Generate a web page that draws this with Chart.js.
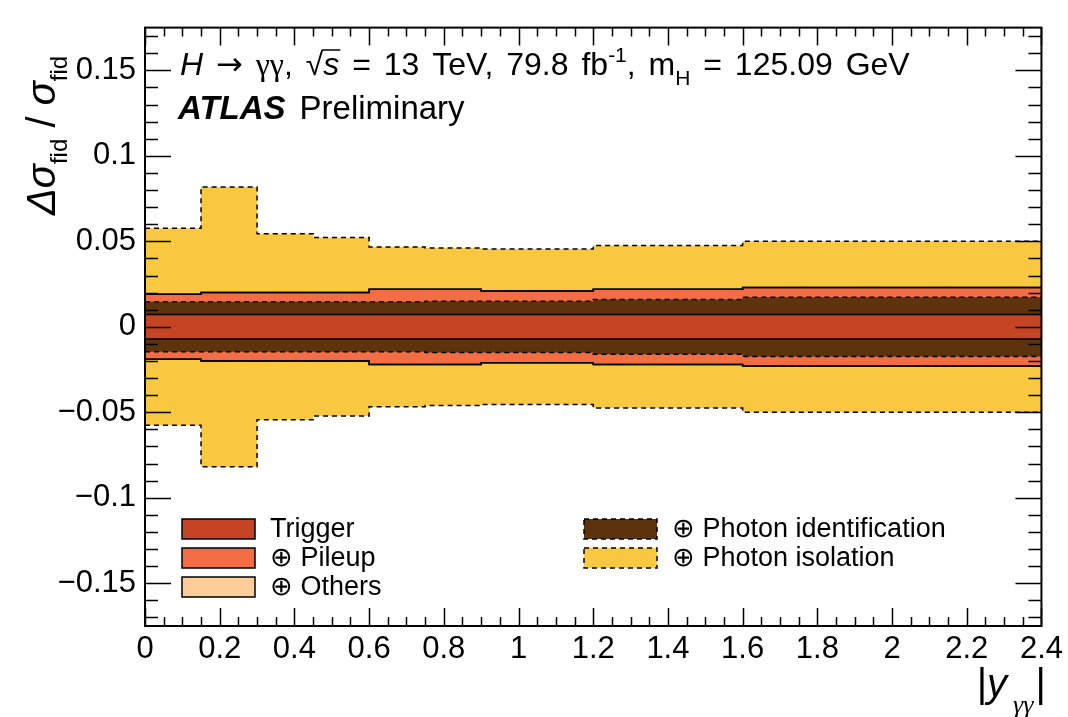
<!DOCTYPE html>
<html>
<head>
<meta charset="utf-8">
<script src="https://cdn.jsdelivr.net/npm/chart.js@4"></script>
<style>
  body { margin: 0; background: #fff; }
  #wrap { width: 1068px; height: 717px; position: relative; }
</style>
</head>
<body>
<div id="wrap"><canvas id="chart"></canvas></div>
<script>
// bin edges in |y_yy| and relative uncertainties (symmetric bands)
const binEdges = [0, 0.15, 0.3, 0.45, 0.6, 0.75, 0.9, 1.2, 1.6, 2.4];
const trigger = [0.0072, 0.0072, 0.0072, 0.0072, 0.0072, 0.0072, 0.0072, 0.0072, 0.0072];
const pileup = [0.019, 0.020, 0.020, 0.020, 0.022, 0.022, 0.021, 0.022, 0.023];
const others = [0.019, 0.020, 0.020, 0.020, 0.022, 0.022, 0.021, 0.022, 0.023];
const photonId = [0.0146, 0.0146, 0.0146, 0.0146, 0.0146, 0.015, 0.015, 0.016, 0.0173];
const photonIso = [0.0576, 0.0818, 0.0544, 0.0522, 0.0467, 0.0461, 0.0455, 0.0475, 0.050];

const seriesLabels = ['Trigger', '\u2295 Pileup', '\u2295 Others', '\u2295 Photon identification', '\u2295 Photon isolation'];
const seriesColors = ['rgb(196,68,36)', 'rgb(243,109,68)', 'rgb(252,205,152)', 'rgb(93,51,14)', 'rgb(250,200,64)'];
const seriesDashed = [false, false, false, true, true];

const xTickValues = [0, 0.2, 0.4, 0.6, 0.8, 1, 1.2, 1.4, 1.6, 1.8, 2, 2.2, 2.4];
const xTickLabels = ['0', '0.2', '0.4', '0.6', '0.8', '1', '1.2', '1.4', '1.6', '1.8', '2', '2.2', '2.4'];
const yTickValues = [-0.15, -0.1, -0.05, 0, 0.05, 0.1, 0.15];
const yTickLabels = ['\u22120.15', '\u22120.1', '\u22120.05', '0', '0.05', '0.1', '0.15'];

const FONT = "'Liberation Sans', Arial, Helvetica, sans-serif";

function stepPoints(vals, sign) {
  return binEdges.map((e, i) => ({ x: e, y: sign * vals[Math.min(i, vals.length - 1)] }));
}

// first dataset ends up on top
const series = [trigger, photonId, pileup, others, photonIso];
const seriesIdx = [0, 3, 1, 2, 4];
const datasets = [];
series.forEach((vals, k) => {
  const s = seriesIdx[k];
  const common = {
    stepped: true,
    pointRadius: 0,
    borderColor: '#000',
    borderWidth: 1.5,
    borderDash: seriesDashed[s] ? [5, 4] : [],
    backgroundColor: seriesColors[s],
  };
  datasets.push(Object.assign({ label: seriesLabels[s], data: stepPoints(vals, 1), fill: '+1' }, common));
  datasets.push(Object.assign({ label: seriesLabels[s] + ' down', data: stepPoints(vals, -1), fill: false }, common));
});

// draws pieces one after another; spaces get extra gap 'ws'
function drawRich(ctx, x, y, parts, ws) {
  ws = ws || 0;
  parts.forEach(p => {
    ctx.font = p.font;
    const words = p.t.split(' ');
    const sp = ctx.measureText(' ').width + ws;
    const x0 = x;
    words.forEach((wd, i) => {
      if (i > 0) x += sp;
      ctx.fillText(wd, x, y + (p.dy || 0));
      x += ctx.measureText(wd).width;
    });
    if (p.over) {
      ctx.save();
      ctx.lineWidth = 1.5;
      ctx.beginPath();
      ctx.moveTo(x0 - 1, y - 25);
      ctx.lineTo(x + 1, y - 25);
      ctx.stroke();
      ctx.restore();
    }
    x += (p.dx || 0);
  });
  return x;
}

const decor = {
  id: 'decor',
  afterDatasetsDraw(chart) {
    const ctx = chart.ctx;
    const a = chart.chartArea;
    const xs = chart.scales.x, ys = chart.scales.y;
    ctx.save();
    ctx.strokeStyle = '#000';
    ctx.lineWidth = 1.5;
    ctx.beginPath();
    // y ticks, both sides
    for (let i = -17; i <= 17; i++) {
      const py = Math.round(ys.getPixelForValue(i / 100)) + 0.5;
      const len = (i % 5 === 0) ? 26 : 13;
      ctx.moveTo(a.left, py); ctx.lineTo(a.left + len, py);
      ctx.moveTo(a.right, py); ctx.lineTo(a.right - len, py);
    }
    // x ticks, both sides
    for (let i = 0; i <= 48; i++) {
      const px = Math.round(xs.getPixelForValue(i * 0.05)) + 0.5;
      const len = (i % 4 === 0) ? 18 : 9;
      ctx.moveTo(px, a.bottom); ctx.lineTo(px, a.bottom - len);
      ctx.moveTo(px, a.top); ctx.lineTo(px, a.top + len);
    }
    ctx.stroke();
    ctx.lineWidth = 2;
    ctx.strokeRect(a.left, a.top, a.right - a.left, a.bottom - a.top);
    ctx.restore();
  },
  afterDraw(chart) {
    const ctx = chart.ctx;
    ctx.save();
    ctx.fillStyle = '#000';
    ctx.strokeStyle = '#000';
    ctx.textBaseline = 'alphabetic';
    ctx.textAlign = 'left';

    // header
    drawRich(ctx, 180, 75, [
      { t: 'H', font: 'italic 32px ' + FONT },
      { t: ' ', font: '32px ' + FONT },
      { t: '\u2192', font: "32px 'DejaVu Sans', sans-serif" },
      { t: ' ', font: '32px ' + FONT },
      { t: '\u03b3\u03b3', font: "32px 'Liberation Serif', serif" },
      { t: ', ', font: '32px ' + FONT },
      { t: '\u221a', font: '32px ' + FONT },
      { t: 's', font: 'italic 32px ' + FONT, over: true },
      { t: ' = 13 TeV, 79.8 fb', font: '32px ' + FONT },
      { t: '-1', font: '21px ' + FONT, dy: -13 },
      { t: ', m', font: '32px ' + FONT },
      { t: 'H', font: '21px ' + FONT, dy: 10 },
      { t: ' = 125.09 GeV', font: '32px ' + FONT }
    ], 4);
    drawRich(ctx, 178, 119, [
      { t: 'ATLAS', font: 'italic bold 33px ' + FONT, dx: 14 },
      { t: 'Preliminary', font: '33px ' + FONT }
    ]);

    // legend
    const cols = [{ x: 182, items: [0, 1, 2] }, { x: 584, items: [3, 4] }];
    cols.forEach(c => {
      c.items.forEach((s, r) => {
        const top = 519 + r * 29;
        ctx.fillStyle = seriesColors[s];
        ctx.fillRect(c.x, top, 73, 20);
        ctx.lineWidth = 1.5;
        ctx.setLineDash(seriesDashed[s] ? [5, 4] : []);
        ctx.strokeStyle = '#000';
        ctx.strokeRect(c.x, top, 73, 20);
        ctx.setLineDash([]);
        ctx.fillStyle = '#000';
        ctx.font = '27px ' + FONT;
        ctx.textBaseline = 'middle';
        ctx.fillText(seriesLabels[s], c.x + 88, top + 11);
      });
    });
    ctx.textBaseline = 'alphabetic';

    // y title, rotated
    ctx.save();
    ctx.translate(55, 215);
    ctx.rotate(-Math.PI / 2);
    drawRich(ctx, 0, 0, [
      { t: '\u0394\u03c3', font: 'italic 40px ' + FONT },
      { t: 'fid', font: '24px ' + FONT, dy: 12 },
      { t: ' / ', font: '40px ' + FONT },
      { t: '\u03c3', font: 'italic 40px ' + FONT },
      { t: 'fid', font: '24px ' + FONT, dy: 12 }
    ]);
    ctx.restore();

    // x title
    const xParts = [
      { t: '|', font: '40px ' + FONT },
      { t: 'y', font: 'italic 40px ' + FONT, dx: 6 },
      { t: '\u03b3\u03b3', font: "italic 26px 'Liberation Serif', serif", dy: 16, dx: 2 },
      { t: '|', font: '40px ' + FONT }
    ];
    let w = 0;
    xParts.forEach(p => { ctx.font = p.font; w += ctx.measureText(p.t).width + (p.dx || 0); });
    drawRich(ctx, 1046 - w, 697, xParts);
    ctx.restore();
  }
};

const ctx = document.getElementById('chart').getContext('2d');
const chart = new Chart(ctx, {
  type: 'line',
  data: { datasets: datasets },
  options: {
    responsive: true,
    maintainAspectRatio: false,
    animation: false,
    layout: { padding: { top: 18, right: 21, left: 0, bottom: 0 } },
    plugins: {
      legend: { display: false },
      tooltip: { enabled: false },
      filler: { drawTime: 'beforeDatasetsDraw' }
    },
    scales: {
      x: {
        type: 'linear',
        min: 0,
        max: 2.4,
        grid: { display: false, drawTicks: false },
        border: { display: false },
        afterBuildTicks: s => { s.ticks = xTickValues.map(v => ({ value: v })); },
        afterFit: s => { s.height = 91; },
        ticks: {
          autoSkip: false,
          maxRotation: 0,
          padding: 5,
          color: '#000',
          font: { family: FONT, size: 31 },
          callback: (v, i) => xTickLabels[i]
        }
      },
      y: {
        min: -0.175,
        max: 0.175,
        grid: { display: false, drawTicks: false },
        border: { display: false },
        afterBuildTicks: s => { s.ticks = yTickValues.map(v => ({ value: v })); },
        afterFit: s => { s.width = 145; },
        ticks: {
          padding: 9,
          color: '#000',
          font: { family: FONT, size: 31 },
          callback: (v, i) => yTickLabels[i]
        }
      }
    }
  },
  plugins: [decor]
});
</script>
</body>
</html>
